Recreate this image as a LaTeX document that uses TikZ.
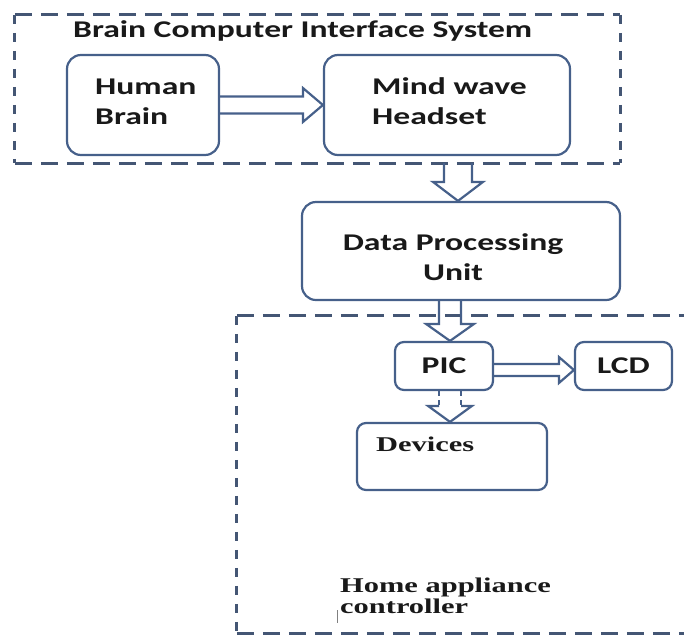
\documentclass[tikz,border=0pt]{standalone}
\usepackage{fontspec}
\usetikzlibrary{calc}
\newfontfamily\calfont[FakeStretch=1.4]{Carlito}
\newfontfamily\tnrfont[FakeStretch=1.45]{Liberation Serif}
\definecolor{boxline}{RGB}{70,96,138}
\definecolor{dashline}{RGB}{68,86,116}
\definecolor{inktext}{RGB}{25,25,25}
\tikzset{
  box/.style={draw=boxline, line width=2.2pt, rounded corners=14pt, fill=white,
    inner sep=0pt, text=inktext, font=\calfont\bfseries\fontsize{24}{30}\selectfont},
  smallbox/.style={box, rounded corners=9pt},
  sanslabel/.style={inner sep=0pt, text=inktext, font=\calfont\bfseries\fontsize{24}{30}\selectfont},
  seriflabel/.style={inner sep=0pt, text=inktext, font=\tnrfont\bfseries\fontsize{21}{21}\selectfont},
  area/.style={inner sep=0pt, draw=none},
  dashH/.style={draw=dashline, line width=3pt, dash pattern=on 17pt off 9pt},
  dashV/.style={draw=dashline, line width=3pt, dash pattern=on 9pt off 9pt},
  blockarrow/.style={draw=boxline, line width=2.2pt, line join=miter},
  blockdash/.style={draw=boxline, line width=2.2pt, dash pattern=on 5pt off 4pt},
}
\begin{document}
\begin{tikzpicture}[x=1pt, y=-1pt]
\useasboundingbox (0,0) rectangle (684,635);

% dashed frame: brain computer interface system
\node[area, minimum width=605pt, minimum height=148pt] (bci) at (317.5,89) {};
\draw[dashH] (bci.north west) -- (bci.north east);
\draw[dashH] (bci.south west) -- (bci.south east);
\draw[dashV] (bci.north west) -- (bci.south west);
\draw[dashV] (bci.north east) -- (bci.south east);
\node[sanslabel, anchor=base west] (bcititle) at (73,37) {Brain Computer Interface System};

% dashed frame: home appliance controller (open to the right)
\node[area, minimum width=463pt, minimum height=317pt] (home) at (468.5,474.5) {};
\draw[dashH] (home.north west) -- (home.north east);
\draw[dashH] (home.south west) -- (home.south east);
\draw[dashV] (home.north west) -- (home.south west);
\node[seriflabel, anchor=base west, align=left] (hometitle) at (340,613) {Home appliance\\controller};
\draw[gray, line width=0.8pt] (337,610) -- (337,623);

% blocks
\node[box, minimum width=152pt, minimum height=100pt] (brain) at (143,105) {};
\node[sanslabel, anchor=base west, align=left] (braintext) at (95,124) {Human\\Brain};
\node[box, minimum width=246pt, minimum height=100pt] (head) at (447,105) {};
\node[sanslabel, anchor=base west, align=left] (headtext) at (372,124) {Mind wave\\Headset};
\node[box, minimum width=318pt, minimum height=98pt] (dpu) at (461,251) {};
\node[sanslabel, anchor=base, align=center] (dputext) at (453,280) {Data Processing\\Unit};
\node[smallbox, minimum width=98pt, minimum height=48pt] (pic) at (444,366) {PIC};
\node[smallbox, minimum width=97pt, minimum height=48pt] (lcd) at (623.5,366) {LCD};
\node[smallbox, minimum width=190pt, minimum height=67pt] (dev) at (452,456.5) {};
\node[seriflabel, anchor=base west] (devtext) at ($(dev.north west)+(20,30)$) {Devices};

% block arrows
\draw[blockarrow] let \p1=(brain.east), \p2=(head.west) in
  (\x1,\y1+8.5pt) -- (\x2-20pt,\y1+8.5pt) -- (\x2-20pt,\y1+17pt) -- (\x2,\y1)
  -- (\x2-20pt,\y1-17pt) -- (\x2-20pt,\y1-8.5pt) -- (\x1,\y1-8.5pt);
\draw[blockarrow] let \p1=(bci.south), \p2=($(dpu.north)+(-3,0)$) in
  (\x2-14pt,\y1) -- (\x2-14pt,\y2+19pt) -- (\x2-25pt,\y2+19pt) -- (\x2,\y2)
  -- (\x2+25pt,\y2+19pt) -- (\x2+14pt,\y2+19pt) -- (\x2+14pt,\y1);
\draw[blockarrow] let \p1=(dpu.south), \p2=($(pic.north)+(6,0)$) in
  (\x2-11pt,\y1) -- (\x2-11pt,\y2+17pt) -- (\x2-24pt,\y2+17pt) -- (\x2,\y2)
  -- (\x2+24pt,\y2+17pt) -- (\x2+11pt,\y2+17pt) -- (\x2+11pt,\y1);
\draw[blockarrow] let \p1=($(pic.east)+(0,4)$), \p2=(lcd.west) in
  (\x1,\y1+6pt) -- (\x2-15pt,\y1+6pt) -- (\x2-15pt,\y1+13pt) -- (\x2,\y1)
  -- (\x2-15pt,\y1-13pt) -- (\x2-15pt,\y1-6pt) -- (\x1,\y1-6pt);
% dashed arrow to the devices
\draw[blockdash] let \p1=($(pic.south)+(6,0)$), \p2=($(dev.north)+(-2,0)$) in
  (\x2-11pt,\y1) -- (\x2-11pt,\y2+16pt) (\x2+11pt,\y1) -- (\x2+11pt,\y2+16pt);
\draw[blockarrow] let \p2=($(dev.north)+(-2,0)$) in
  (\x2-11pt,\y2+16pt) -- (\x2-22pt,\y2+16pt) -- (\x2,\y2)
  -- (\x2+22pt,\y2+16pt) -- (\x2+11pt,\y2+16pt);
\end{tikzpicture}
\end{document}
